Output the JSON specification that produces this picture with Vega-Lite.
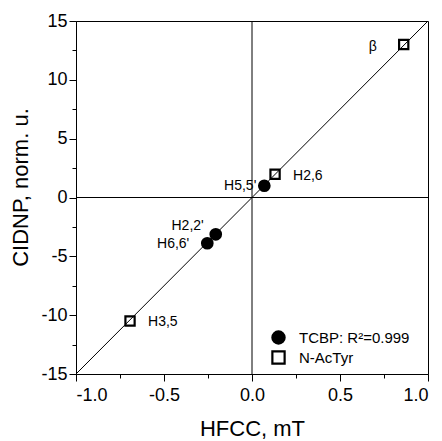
{
  "$schema": "https://vega.github.io/schema/vega-lite/v6.json",
  "width": 352,
  "height": 353,
  "autosize": "none",
  "padding": {"left": 76, "top": 21, "right": 14, "bottom": 67},
  "background": "white",
  "data": {
    "values": [
      {"compound": "TCBP", "label": "H5,5'", "hfcc": 0.07, "cidnp": 1.0},
      {"compound": "TCBP", "label": "H2,2'", "hfcc": -0.206, "cidnp": -3.13},
      {"compound": "TCBP", "label": "H6,6'", "hfcc": -0.254, "cidnp": -3.89},
      {"compound": "N-AcTyr", "label": "β", "hfcc": 0.862, "cidnp": 13.0},
      {"compound": "N-AcTyr", "label": "H2,6", "hfcc": 0.131, "cidnp": 1.97},
      {"compound": "N-AcTyr", "label": "H3,5", "hfcc": -0.693, "cidnp": -10.49}
    ]
  },
  "encoding": {
    "x": {
      "field": "hfcc", "type": "quantitative",
      "scale": {"domain": [-1, 1], "nice": false, "zero": false},
      "axis": {
        "title": "HFCC, mT",
        "values": [-1, -0.75, -0.5, -0.25, 0, 0.25, 0.5, 0.75, 1],
        "labelExpr": "abs(datum.value*2 - round(datum.value*2)) < 0.001 ? format(datum.value, '.1f') : ''",
        "tickSize": {"condition": {"test": "abs(datum.value*2 - round(datum.value*2)) < 0.001", "value": 7}, "value": 4},
        "labelPadding": 5,
        "titlePadding": 14
      }
    },
    "y": {
      "field": "cidnp", "type": "quantitative",
      "scale": {"domain": [-15, 15], "nice": false, "zero": false},
      "axis": {
        "title": "CIDNP, norm. u.",
        "values": [-15, -12.5, -10, -7.5, -5, -2.5, 0, 2.5, 5, 7.5, 10, 12.5, 15],
        "labelExpr": "datum.value % 5 === 0 ? format(datum.value, 'd') : ''",
        "tickSize": {"condition": {"test": "datum.value % 5 === 0", "value": 7}, "value": 4},
        "labelPadding": 2,
        "titlePadding": 8,
        "titleY": 166
      }
    }
  },
  "layer": [
    {
      "data": {"values": [{"hfcc": 0}]},
      "mark": {"type": "rule", "color": "black", "strokeWidth": 1},
      "encoding": {"y": null}
    },
    {
      "data": {"values": [{"cidnp": 0}]},
      "mark": {"type": "rule", "color": "black", "strokeWidth": 1},
      "encoding": {"x": null}
    },
    {
      "data": {"values": [{"hfcc": -1, "cidnp": -15}, {"hfcc": 1, "cidnp": 15}]},
      "mark": {"type": "line", "color": "black", "strokeWidth": 1},
      "encoding": {}
    },
    {
      "mark": {"type": "point", "filled": true, "stroke": "black", "strokeWidth": 2.2, "opacity": 1},
      "encoding": {
        "shape": {
          "field": "compound", "type": "nominal",
          "scale": {"domain": ["TCBP", "N-AcTyr"], "range": ["circle", "square"]},
          "legend": {
            "title": null,
            "labelExpr": "datum.label === 'TCBP' ? 'TCBP: R²=0.999' : datum.label",
            "encode": {"symbols": {"stroke": {"value": "black"}, "strokeWidth": {"value": 2.2}, "size": {"signal": "datum.value === 'TCBP' ? 150 : 90"}}}
          }
        },
        "fill": {
          "field": "compound", "type": "nominal",
          "scale": {"domain": ["TCBP", "N-AcTyr"], "range": ["black", "transparent"]},
          "legend": {
            "title": null,
            "labelExpr": "datum.label === 'TCBP' ? 'TCBP: R²=0.999' : datum.label",
            "encode": {"symbols": {"stroke": {"value": "black"}, "strokeWidth": {"value": 2.2}, "size": {"signal": "datum.value === 'TCBP' ? 150 : 90"}}}
          }
        },
        "size": {"condition": {"test": "datum.compound === 'TCBP'", "value": 110}, "value": 85}
      }
    },
    {
      "transform": [{"filter": "datum.label === 'β'"}],
      "mark": {"type": "text", "align": "right", "baseline": "middle", "dx": -27, "dy": 2},
      "encoding": {"text": {"field": "label"}}
    },
    {
      "transform": [{"filter": "datum.label === 'H2,6'"}],
      "mark": {"type": "text", "align": "left", "baseline": "middle", "dx": 18, "dy": 2},
      "encoding": {"text": {"field": "label"}}
    },
    {
      "transform": [{"filter": "datum.label === \"H5,5'\""}],
      "mark": {"type": "text", "align": "right", "baseline": "middle", "dx": -8, "dy": 0},
      "encoding": {"text": {"field": "label"}}
    },
    {
      "transform": [{"filter": "datum.label === \"H2,2'\""}],
      "mark": {"type": "text", "align": "right", "baseline": "middle", "dx": -12, "dy": -8.5},
      "encoding": {"text": {"field": "label"}}
    },
    {
      "transform": [{"filter": "datum.label === \"H6,6'\""}],
      "mark": {"type": "text", "align": "right", "baseline": "middle", "dx": -18, "dy": 1},
      "encoding": {"text": {"field": "label"}}
    },
    {
      "transform": [{"filter": "datum.label === 'H3,5'"}],
      "mark": {"type": "text", "align": "left", "baseline": "middle", "dx": 18, "dy": 1},
      "encoding": {"text": {"field": "label"}}
    }
  ],
  "config": {
    "locale": {"number": {"decimal": ".", "thousands": ",", "grouping": [3], "currency": ["$", ""], "minus": "-"}},
    "view": {"stroke": "black", "strokeWidth": 1},
    "font": "Liberation Sans",
    "text": {"font": "Liberation Sans", "fontSize": 14, "color": "black"},
    "axis": {
      "grid": false,
      "domainColor": "black",
      "domainWidth": 1,
      "tickColor": "black",
      "tickWidth": 1,
      "labelColor": "black",
      "labelFont": "Liberation Sans",
      "labelFontSize": 18,
      "titleColor": "black",
      "titleFont": "Liberation Sans",
      "titleFontSize": 22,
      "titleFontWeight": "normal"
    },
    "legend": {
      "orient": "none",
      "legendX": 195,
      "legendY": 309,
      "padding": 0,
      "labelFont": "Liberation Sans",
      "labelFontSize": 15,
      "labelColor": "black",
      "labelOffset": 13,
      "rowPadding": -3,
      "symbolSize": 150,
      "symbolStrokeWidth": 2.2
    }
  }
}
